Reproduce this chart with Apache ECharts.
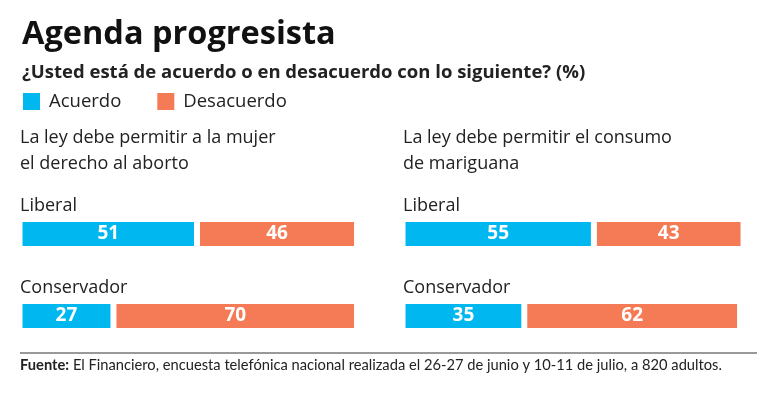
<!DOCTYPE html>
<html>
<head>
<meta charset="utf-8">
<script src="https://cdn.jsdelivr.net/npm/echarts@6/dist/echarts.min.js"></script>
<style>
  html, body { margin: 0; padding: 0; background: #fff; }
  #chart { width: 775px; height: 396px; }
</style>
</head>
<body>
<div id="chart"></div>
<script>
const categories = ["Liberal", "Conservador"];
const seriesNames = ["Acuerdo", "Desacuerdo"];
const abortoAcuerdo = [51, 27];
const abortoDesacuerdo = [46, 70];
const mariguanaAcuerdo = [55, 35];
const mariguanaDesacuerdo = [43, 62];
const panelTitles = [
    "La ley debe permitir a la mujer\nel derecho al aborto",
    "La ley debe permitir el consumo\nde mariguana",
];

const BLUE = "#00b7f0";
const ORANGE = "#f47b55";
const FONT = "Open Sans";
const panelLeft = [21, 404];

function barSeries(name, data, idx, color) {
    return {
        name: name,
        type: "bar",
        stack: "p" + idx,
        xAxisIndex: idx,
        yAxisIndex: idx,
        barWidth: 30,
        data: data,
        itemStyle: {color: color, borderColor: "#fff", borderWidth: 3},
        label: {
            show: true,
            position: "inside",
            color: "#fff",
            fontFamily: FONT,
            fontWeight: "bold",
            fontSize: 19,
        },
    };
}

const grids = panelLeft.map((left) => ({left: left - 1.5, top: 193, width: 348, height: 164}));
const xAxes = panelLeft.map((_, i) => ({
    type: "value", gridIndex: i, min: 0, max: 100, show: false,
}));
const yAxes = panelLeft.map((_, i) => ({
    type: "category", gridIndex: i, data: categories, inverse: true, show: false,
}));

const graphics = [];
panelLeft.forEach((left, i) => {
    graphics.push({
        type: "text", left: left - 1, top: 125,
        style: {text: panelTitles[i], font: "18px '" + FONT + "'", fill: "#222", lineHeight: 26},
    });
    categories.forEach((c, j) => {
        graphics.push({
            type: "text", left: left - 1, top: 197 + j * 82,
            style: {text: c, font: "18px '" + FONT + "'", fill: "#222"},
        });
    });
});
graphics.push({
    type: "line", shape: {x1: 20, y1: 353, x2: 757, y2: 353},
    style: {stroke: "#777", lineWidth: 1.5},
});
graphics.push({
    type: "text", left: 20, top: 358,
    style: {
        text: "{b|Fuente:} El Financiero, encuesta telefónica nacional realizada el 26-27 de junio y 10-11 de julio, a 820 adultos.",
        font: "14.7px Lato", fill: "#222",
        rich: {b: {fontWeight: "bold", fontFamily: "Lato", fontSize: 14.7}},
    },
});

const chart = echarts.init(document.getElementById("chart"));
chart.setOption({
    animation: false,
    title: {
        text: "Agenda progresista",
        subtext: "¿Usted está de acuerdo o en desacuerdo con lo siguiente? (%)",
        left: 17, top: 13, itemGap: 12,
        textStyle: {fontFamily: FONT, fontWeight: "bold", fontSize: 32.5, color: "#111"},
        subtextStyle: {fontFamily: FONT, fontWeight: "bold", fontSize: 18.5, color: "#222"},
    },
    legend: {
        data: seriesNames,
        left: 16, top: 86,
        icon: "rect", itemWidth: 19, itemHeight: 19, itemGap: 34,
        textStyle: {fontFamily: FONT, fontSize: 18.5, color: "#222", padding: [0, 0, 0, 3]},
    },
    grid: grids,
    xAxis: xAxes,
    yAxis: yAxes,
    series: [
        barSeries(seriesNames[0], abortoAcuerdo, 0, BLUE),
        barSeries(seriesNames[1], abortoDesacuerdo, 0, ORANGE),
        barSeries(seriesNames[0], mariguanaAcuerdo, 1, BLUE),
        barSeries(seriesNames[1], mariguanaDesacuerdo, 1, ORANGE),
    ],
    graphic: graphics,
});
</script>
</body>
</html>
